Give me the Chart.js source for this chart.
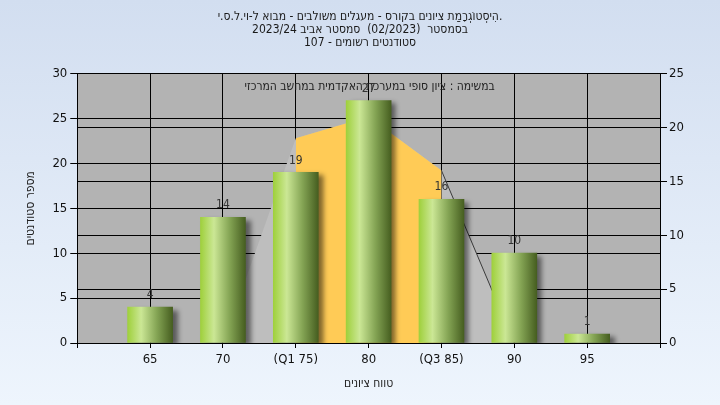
<!DOCTYPE html>
<html>
<head>
<meta charset="utf-8">
<script src="https://cdn.jsdelivr.net/npm/chart.js@4.4.1/dist/chart.umd.min.js"></script>
<style>
  html, body { margin: 0; padding: 0; }
  body { width: 720px; height: 405px; overflow: hidden; background: linear-gradient(#d2def0, #eef5fd); }
</style>
</head>
<body>
<canvas id="histChart" width="720" height="405"></canvas>
<script>
// histogram data
const grades = [65, 70, 75, 80, 85, 90, 95];
const counts = [4, 14, 19, 27, 16, 10, 1];

// background areas (right axis)
const rangeGrades = [70, 75, 80, 85, 90];
const rangeValues = [0, 19, 21, 16, 0];
const quartileGrades = [75, 80, 85];
const quartileValues = [19, 21, 16];

const xTicks = [60, 65, 70, 75, 80, 85, 90, 95, 100];
const xTickLabels = ['', '65', '70', '(Q1 75)', '80', '(Q3 85)', '90', '95', ''];

const titleLines = [
  'הִיסְטוֹגְרָמַת ציונים בקורס - מעגלים משולבים - מבוא ל-וי.ל.ס.י.',
  'בסמסטר  (02/2023)  סמסטר אביב 2023/24',
  'סטודנטים רשומים - 107'
];
const innerNote = 'במשימה : ציון סופי במערכת האקדמית במחשב המרכזי';
const yTitle = 'מספר סטודנטים';
const xTitle = 'טווח ציונים';

const FONT = "'Liberation Sans Narrow', 'DejaVu Sans Condensed', 'Liberation Sans', sans-serif";

const plotBg = {
  id: 'plotBg',
  beforeDraw(chart) {
    const { ctx, chartArea: a } = chart;
    ctx.save();
    ctx.fillStyle = '#b3b3b3';
    ctx.fillRect(a.left, a.top, a.right - a.left, a.bottom - a.top);
    ctx.restore();
  },
  beforeDatasetsDraw(chart) {
    const { ctx, chartArea: a } = chart;
    ctx.save();
    ctx.font = '12px ' + FONT;
    ctx.fillStyle = '#222';
    ctx.textAlign = 'center';
    ctx.textBaseline = 'middle';
    ctx.fillText(innerNote, (a.left + a.right) / 2 + 1, a.top + 13);
    ctx.restore();
  }
};

// soft shadow behind the bars
const barShadow = {
  id: 'barShadow',
  beforeDatasetDraw(chart, args) {
    if (args.index !== 0) return;
    const ctx = chart.ctx;
    ctx.save();
    ctx.shadowColor = 'rgba(0,0,0,0.5)';
    ctx.shadowBlur = 5;
    ctx.shadowOffsetX = 5;
    ctx.shadowOffsetY = 3;
  },
  afterDatasetDraw(chart, args) {
    if (args.index !== 0) return;
    chart.ctx.restore();
  }
};

const valueLabels = {
  id: 'valueLabels',
  afterDatasetsDraw(chart) {
    const ctx = chart.ctx;
    const meta = chart.getDatasetMeta(0);
    ctx.save();
    ctx.font = '12px ' + FONT;
    ctx.fillStyle = '#333';
    ctx.textAlign = 'center';
    ctx.textBaseline = 'middle';
    meta.data.forEach((bar, i) => {
      ctx.fillText(String(counts[i]), bar.x, bar.y - 12);
    });
    ctx.restore();
  }
};

function barGradient(c) {
  const chart = c.chart;
  const xs = chart.scales.x;
  if (c.type !== 'data' || !xs) return '#8fbf3a';
  const cx = xs.getPixelForValue(grades[c.dataIndex]);
  if (!isFinite(cx)) return '#8fbf3a';
  const g = chart.ctx.createLinearGradient(cx - 22.5, 0, cx + 22.5, 0);
  g.addColorStop(0, '#9fd03c');
  g.addColorStop(0.3, '#cbe795');
  g.addColorStop(0.65, '#84a454');
  g.addColorStop(1, '#465e20');
  return g;
}

const tickFont = { family: FONT, size: 13 };

const chart = new Chart(document.getElementById('histChart'), {
  type: 'bar',
  data: {
    datasets: [
      {
        type: 'bar',
        data: grades.map((g, i) => ({ x: g, y: counts[i] })),
        backgroundColor: barGradient,
        borderWidth: 0,
        barThickness: 45,
        yAxisID: 'y',
        order: 0
      },
      {
        type: 'line',
        data: quartileGrades.map((g, i) => ({ x: g, y: quartileValues[i] })),
        backgroundColor: '#ffcb56',
        borderWidth: 0,
        pointRadius: 0,
        tension: 0,
        fill: 'origin',
        yAxisID: 'y2',
        order: 1
      },
      {
        type: 'line',
        data: rangeGrades.map((g, i) => ({ x: g, y: rangeValues[i] })),
        backgroundColor: '#bebebe',
        borderWidth: 1,
        segment: {
          borderColor: s => (s.p0DataIndex === 3 ? '#3a3a3a' : 'rgba(0,0,0,0)')
        },
        pointRadius: 0,
        tension: 0,
        fill: 'origin',
        yAxisID: 'y2',
        order: 2
      }
    ]
  },
  options: {
    responsive: false,
    animation: false,
    devicePixelRatio: 1,
    layout: { padding: { left: 0, right: 0, top: 0, bottom: 14 } },
    plugins: {
      legend: { display: false },
      tooltip: { enabled: false },
      title: {
        display: true,
        text: titleLines,
        color: '#1a1a1a',
        font: { family: FONT, size: 12, weight: 'normal', lineHeight: 1.1 },
        padding: { top: 10, bottom: 24 }
      }
    },
    scales: {
      x: {
        type: 'linear',
        min: 60,
        max: 100,
        offset: false,
        afterBuildTicks: axis => { axis.ticks = xTicks.map(v => ({ value: v })); },
        ticks: {
          autoSkip: false,
          maxRotation: 0,
          color: '#111',
          font: tickFont,
          padding: 4,
          callback: v => xTickLabels[xTicks.indexOf(v)]
        },
        grid: { color: '#000', lineWidth: 1, offset: false, tickLength: 5 },
        border: { color: '#000', width: 1 },
        title: {
          display: true,
          text: xTitle,
          color: '#222',
          font: { family: FONT, size: 12 },
          padding: { top: 5, bottom: 0 }
        }
      },
      y: {
        position: 'left',
        min: 0,
        max: 30,
        ticks: { stepSize: 5, color: '#111', font: tickFont, padding: 3 },
        grid: { color: '#000', lineWidth: 1, tickLength: 7 },
        border: { color: '#000', width: 1 },
        title: {
          display: true,
          text: yTitle,
          color: '#222',
          font: { family: FONT, size: 12 },
          padding: { top: 24, bottom: 11 }
        }
      },
      y2: {
        position: 'right',
        min: 0,
        max: 25,
        afterFit: axis => { axis.width = 60; },
        ticks: { stepSize: 5, color: '#111', font: tickFont, padding: 2 },
        grid: { color: '#000', lineWidth: 1, tickLength: 7 },
        border: { color: '#000', width: 1 }
      }
    }
  },
  plugins: [plotBg, barShadow, valueLabels]
});
chart.update();
</script>
</body>
</html>
